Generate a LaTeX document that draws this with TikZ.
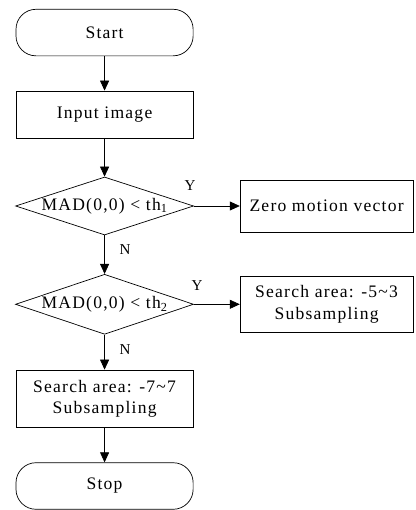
\documentclass[tikz,border=0pt]{standalone}
\usepackage{fontspec}
\setmainfont{Liberation Serif}[LetterSpace=7]
\usepackage{tikz}
\usetikzlibrary{positioning}
\usetikzlibrary{arrows.meta}
\usetikzlibrary{shapes.geometric}

\begin{document}
\begin{tikzpicture}[font=\fontsize{17.5}{21}\selectfont,
    term/.style={draw, rounded corners=0.7cm, minimum width=6.2cm, minimum height=1.63cm, line width=0.7pt},
    proc/.style={draw, align=center, line width=0.7pt, inner sep=0pt},
    dec/.style={draw, diamond, inner sep=0pt, line width=0.7pt, minimum width=6.23cm},
    flow/.style={-{Triangle[length=10pt,width=9pt]}, line width=0.7pt},
    lab/.style={font=\fontsize{15}{18}\selectfont}]

    \useasboundingbox (0,0) rectangle (14.525,-17.85);

    % main column
    \node[term] (start) at (3.66,-1.14) {Start};
    \node[proc, minimum width=6.2cm, minimum height=1.65cm] (input) at (3.66,-4.01) {Input image};
    \node[dec, minimum height=2.03cm] (dec1) at (3.66,-7.21) {\makebox[0pt]{MAD(0,0) < th\textsubscript{1}}};
    \node[dec, minimum height=2.1cm] (dec2) at (3.66,-10.65) {\makebox[0pt]{MAD(0,0) < th\textsubscript{2}}};
    \node[proc, minimum width=6.2cm, minimum height=2cm] (full) at (3.66,-13.95) {Search area: -7\textasciitilde7\\Subsampling};
    \node[term] (stop) at (3.66,-17.01) {Stop};

    % right column
    \node[proc, minimum width=6.05cm, minimum height=1.82cm] (zero) at (11.43,-7.21) {Zero motion vector};
    \node[proc, minimum width=6.05cm, minimum height=1.93cm] (small) at (11.43,-10.65) {Search area: -5\textasciitilde3\\Subsampling};

    \draw[flow] (start) -- (input);
    \draw[flow] (input) -- (dec1);
    \draw[flow] (dec1) -- (zero);
    \draw[flow] (dec1) -- (dec2);
    \draw[flow] (dec2) -- (small);
    \draw[flow] (dec2) -- (full);
    \draw[flow] (full) -- (stop);

    \node[lab] (y1) at (6.65,-6.48) {Y};
    \node[lab] (n1) at (4.38,-8.75) {N};
    \node[lab] (y2) at (6.9,-9.98) {Y};
    \node[lab] (n2) at (4.38,-12.25) {N};

\end{tikzpicture}
\end{document}
